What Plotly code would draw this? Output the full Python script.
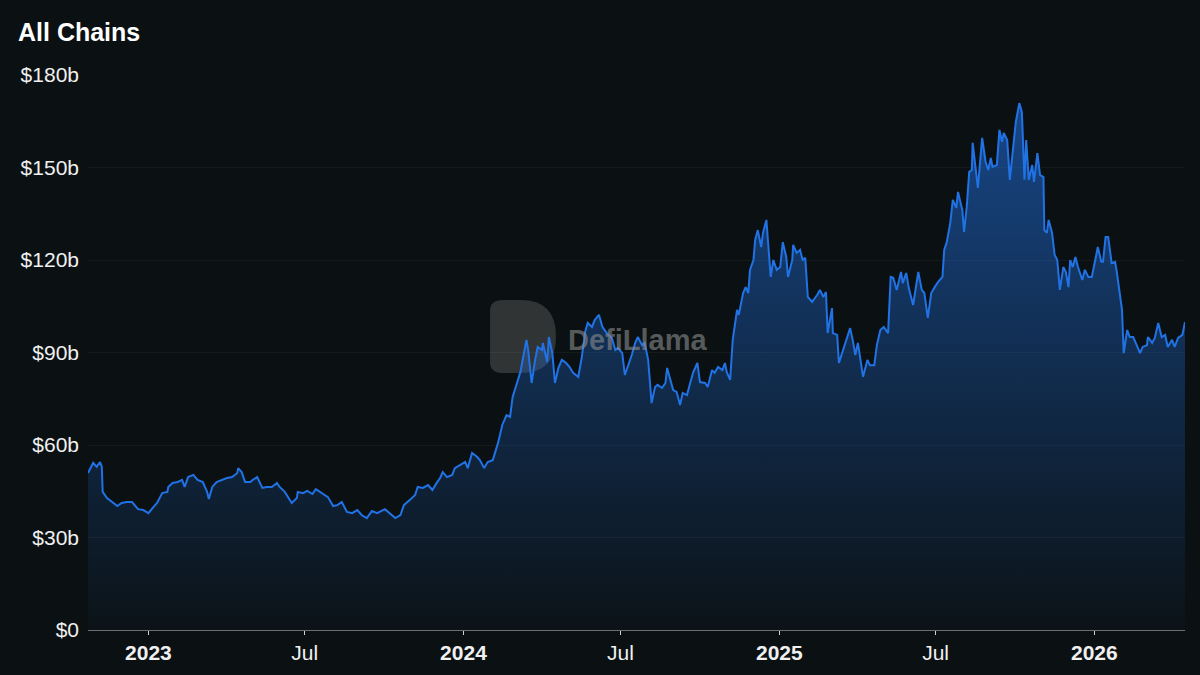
import datetime as dt
import plotly.graph_objects as go

# ---- data (TVL in $ billions), dates as day offsets from START ----
START = "2022-10-23"

days_a = [0, 6, 10, 14, 16, 17, 22, 28, 34, 39, 45, 51, 54, 58, 64, 70, 75, 80, 86, 92,
          93, 98, 104, 109, 112, 116, 122, 127, 133, 138, 140, 144, 149, 155, 161, 167, 173, 174, 178, 182,
          188, 191, 196, 202, 207, 213, 219, 222, 227]
tvl_a = [50.9, 54.2, 52.9, 54.5, 52.9, 44.8, 42.8, 41.5, 40.2, 41.2, 41.5, 41.5, 40.5, 39.2, 38.9, 37.9, 39.6, 41.2, 44.4, 44.8,
         46.4, 47.7, 48.0, 48.7, 46.4, 49.6, 50.3, 48.7, 48.0, 44.8, 42.5, 46.4, 48.0, 48.7, 49.3, 49.6, 50.9, 52.5, 51.2, 48.0,
         48.0, 48.7, 49.6, 46.1, 46.4, 46.4, 47.7, 46.4, 44.8]

days_b = [228, 236, 242, 243, 249, 254, 260, 264, 271, 278, 284, 289, 294, 300, 306, 312, 317, 323, 329, 335,
          344, 350, 356, 362, 366, 373, 379, 382, 388, 394, 399, 404, 408, 411, 416, 422, 425, 431, 437, 440,
          445, 451]
tvl_b = [44.8, 41.2, 42.8, 44.8, 44.4, 45.1, 44.1, 45.7, 44.4, 43.1, 40.2, 40.5, 41.5, 38.3, 37.9, 38.9, 37.3, 36.3, 38.6, 37.9,
         39.2, 37.9, 36.3, 37.3, 40.5, 42.2, 43.8, 46.4, 46.1, 47.0, 45.4, 47.7, 49.3, 51.2, 49.6, 50.3, 52.5, 53.5, 54.5, 52.5,
         57.4, 56.1]

days_c = [454, 459, 463, 469, 475, 480, 485, 489, 492, 497, 501, 504, 508, 510, 514, 518, 521, 526, 527, 532,
          534, 538, 541, 545, 549, 554, 558, 562, 568, 572, 576, 579, 584, 587, 592, 596, 601, 607, 611, 614,
          619, 622, 626, 630, 634, 637, 642, 645, 649]
tvl_c = [55.1, 52.5, 54.5, 55.1, 60.6, 66.5, 69.7, 69.1, 75.6, 80.1, 83.7, 88.2, 94.1, 90.8, 80.1, 87.6, 91.8, 90.8, 93.1, 86.9,
         95.0, 89.8, 80.1, 85.0, 87.6, 86.6, 85.3, 83.4, 82.1, 88.2, 96.7, 99.6, 98.3, 100.5, 102.2, 98.3, 96.3, 94.7, 90.8, 91.5,
         89.8, 82.7, 85.9, 89.2, 93.1, 95.0, 92.4, 93.1, 87.6]

days_d = [653, 657, 660, 665, 669, 671, 674, 678, 682, 686, 689, 694, 698, 701, 706, 709, 715, 718, 723, 726,
          730, 735, 738, 740, 744, 747, 752, 754, 759, 762, 765, 767, 771, 773, 776, 780, 782, 786, 788, 791,
          794, 798, 802, 805, 809, 811, 816, 817, 821, 825, 828, 831, 834, 839, 845, 848, 852, 855, 857, 862,
          863, 868, 870]
tvl_d = [73.6, 78.8, 79.5, 78.5, 80.1, 85.0, 82.1, 77.8, 77.2, 73.0, 76.9, 76.2, 80.4, 83.4, 86.6, 80.4, 80.1, 78.8, 84.3, 83.4,
         85.3, 84.3, 86.6, 83.7, 81.1, 94.1, 103.8, 102.2, 109.3, 111.2, 109.3, 116.8, 120.0, 126.5, 129.7, 124.2, 128.8, 133.0, 125.5, 114.5,
         120.0, 116.8, 117.7, 125.8, 121.0, 114.5, 120.0, 124.9, 122.3, 123.3, 120.0, 120.7, 108.0, 106.4, 108.7, 110.3, 108.0, 109.6, 96.3, 104.4,
         96.3, 95.7, 86.6]

days_e = [874, 878, 883, 886, 889, 892, 894, 898, 903, 906, 911, 914, 918, 922, 927, 930, 933, 937, 942, 944,
          948, 951, 956, 962, 966, 969, 973, 977, 981, 985, 990, 992, 995, 999, 1002, 1006, 1008, 1013, 1015, 1018,
          1021, 1024, 1025, 1028, 1031, 1036, 1038, 1040, 1043, 1046, 1048, 1053, 1056, 1059, 1061, 1065, 1068, 1072, 1075, 1079]
tvl_e = [90.2, 94.1, 97.9, 94.1, 89.2, 93.1, 89.8, 82.1, 87.6, 85.9, 85.9, 92.4, 97.3, 98.3, 96.3, 114.5, 114.2, 110.3, 116.1, 112.5,
         115.8, 110.9, 105.4, 116.1, 110.3, 109.3, 101.2, 109.3, 111.2, 112.9, 114.5, 123.3, 125.8, 132.0, 139.5, 136.9, 142.1, 136.2, 129.1, 136.9,
         148.6, 149.2, 158.0, 150.8, 143.4, 159.6, 155.0, 151.8, 149.2, 153.1, 150.2, 150.8, 162.2, 158.3, 161.2, 158.9, 146.0, 155.7, 164.8, 170.9]

days_f = [1082, 1085, 1087, 1090, 1094, 1096, 1100, 1103, 1107, 1108, 1111, 1113, 1117, 1120, 1123, 1126, 1130, 1133, 1136, 1138,
          1141, 1144, 1147, 1152, 1155, 1159, 1163, 1167, 1170, 1174, 1176, 1179, 1182, 1186, 1190, 1192, 1198, 1200, 1204, 1207,
          1211, 1215, 1219, 1222, 1227, 1228, 1233, 1236, 1240, 1244, 1248, 1251, 1256, 1259, 1263, 1268, 1271]
tvl_f = [168.0, 146.0, 158.9, 146.0, 150.8, 145.3, 154.7, 147.6, 146.9, 129.7, 128.8, 133.0, 128.8, 121.6, 120.0, 110.3, 117.7, 116.1, 111.2, 120.0,
         117.7, 121.0, 117.7, 113.5, 116.8, 114.5, 114.5, 120.0, 124.2, 119.4, 119.4, 127.5, 127.5, 119.0, 119.4, 116.1, 103.8, 89.8, 97.3, 95.0,
         95.0, 92.4, 89.8, 91.8, 92.4, 95.0, 93.1, 94.7, 99.6, 95.0, 95.7, 91.8, 94.1, 91.8, 94.7, 95.7, 99.9]

x_tick_vals = ["2023-01-01", "2023-07-01", "2024-01-01", "2024-07-01", "2025-01-01", "2025-07-01", "2026-01-01"]
x_tick_text = ["<b>2023</b>", "Jul", "<b>2024</b>", "Jul", "<b>2025</b>", "Jul", "<b>2026</b>"]
y_tick_vals = [0, 30, 60, 90, 120, 150, 180]
y_tick_text = ["$0", "$30b", "$60b", "$90b", "$120b", "$150b", "$180b"]

# ---- build ----
start = dt.date.fromisoformat(START)
days = days_a + days_b + days_c + days_d + days_e + days_f
tvl = tvl_a + tvl_b + tvl_c + tvl_d + tvl_e + tvl_f
dates = [start + dt.timedelta(days=d) for d in days]

BG = "#0b1113"
BLUE = "#2172E5"
FONT = "Liberation Sans, Arial, Helvetica, sans-serif"

fig = go.Figure()
fig.add_trace(go.Scatter(
    x=dates, y=tvl, mode="lines",
    line=dict(color=BLUE, width=2),
    fill="tozeroy",
    fillgradient=dict(type="vertical",
                      colorscale=[[0.0, "rgba(33,114,229,0.02)"], [1.0, "rgba(33,114,229,0.55)"]],
                      start=0, stop=172),
    hoverinfo="skip",
    showlegend=False,
))

# watermark (DefiLlama)
x0, x1, yt, yb = 0.3665, 0.4266, 0.5946, 0.4631
ym = (yt + yb) / 2
path = (f"M {x0},{yb+0.02} L {x0},{yt-0.02} Q {x0},{yt} {x0+0.012},{yt} L {x0+0.028},{yt} "
        f"Q {x1},{yt} {x1},{ym} Q {x1},{yb} {x0+0.028},{yb} L {x0+0.012},{yb} Q {x0},{yb} {x0},{yb+0.02} Z")
fig.add_shape(type="path", path=path, xref="paper", yref="paper",
              fillcolor="rgba(110,110,110,0.38)", line=dict(width=0), layer="below")
fig.add_annotation(text="<b>DefiLlama</b>", xref="paper", yref="paper",
                   x=(566 - 88) / 1097, y=(630 - 340) / 555, xanchor="left", yanchor="middle",
                   showarrow=False, font=dict(family=FONT, size=29, color="rgba(140,140,140,0.6)"))

fig.update_layout(
    width=1200, height=675,
    paper_bgcolor=BG, plot_bgcolor=BG,
    margin=dict(l=88, r=15, t=75, b=45),
    font=dict(family=FONT, color="#f0f0f0"),
    title=dict(text="<b>All Chains</b>", x=18 / 1200, xref="container", xanchor="left",
               y=1 - 32 / 675, yref="container", yanchor="middle",
               font=dict(family=FONT, size=25, color="#ffffff")),
    xaxis=dict(
        range=[dates[0], dates[-1]],
        tickmode="array", tickvals=x_tick_vals, ticktext=x_tick_text,
        showgrid=False, zeroline=False,
        showline=True, linecolor="#6a6f72", linewidth=1,
        ticks="outside", ticklen=4, tickcolor="#cfcfcf", tickwidth=1,
        tickfont=dict(family=FONT, size=21, color="#f0f0f0"),
    ),
    yaxis=dict(
        range=[0, 180],
        tickmode="array", tickvals=y_tick_vals, ticktext=y_tick_text,
        showgrid=True, gridcolor="rgba(255,255,255,0.045)", gridwidth=1,
        zeroline=False, showline=False, ticks="",
        ticklabelstandoff=8,
        tickfont=dict(family=FONT, size=21, color="#f0f0f0"),
    ),
)

fig.write_html("out.html",
               config={"displayModeBar": False},
               post_script="document.body.style.margin='0';document.body.style.background='#0b1113';")
